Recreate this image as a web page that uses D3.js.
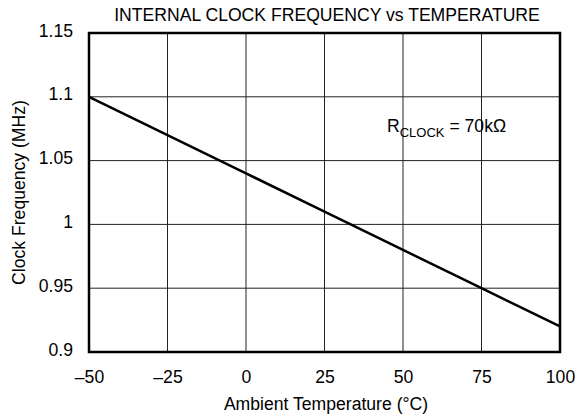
<!DOCTYPE html>
<html><head><meta charset="utf-8">
<script src="https://cdn.jsdelivr.net/npm/d3@7"></script>
<style>body{margin:0;background:#fff}svg{display:block;font-family:"Liberation Sans",Arial,sans-serif}</style>
</head><body><svg id="c" width="575" height="417"></svg>
<script>
const temps = [-50, -25, 0, 25, 50, 75, 100];
const freqs = [1.10, 1.07, 1.04, 1.01, 0.98, 0.95, 0.92];
const xTicks = [-50, -25, 0, 25, 50, 75, 100];
const yTicks = [0.9, 0.95, 1, 1.05, 1.1, 1.15];
const yTickLabels = ["0.9", "0.95", "1", "1.05", "1.1", "1.15"];

const FS = 17.6;
const svg = d3.select("#c");
const L = 89, R = 560, T = 33, B = 352;
const x = d3.scaleLinear().domain([-50, 100]).range([L, R]);
const y = d3.scaleLinear().domain([0.9, 1.15]).range([B, T]);

const g = svg.append("g");
g.selectAll(".vg").data(xTicks).join("line")
  .attr("x1", d => x(d)).attr("x2", d => x(d)).attr("y1", T).attr("y2", B)
  .attr("stroke", "#222").attr("stroke-width", 1);
g.selectAll(".hg").data(yTicks).join("line")
  .attr("y1", d => y(d)).attr("y2", d => y(d)).attr("x1", L).attr("x2", R)
  .attr("stroke", "#222").attr("stroke-width", 1);

const xa = d3.axisBottom(x).tickValues(xTicks).tickSize(0).tickPadding(0)
  .tickFormat(d => d < 0 ? "\u2013" + Math.abs(d) : d);
svg.append("g").attr("transform", `translate(0,${B})`).call(xa)
  .call(s => s.select(".domain").remove())
  .selectAll("text").attr("y", 31).attr("dy", 0).attr("font-size", FS).attr("fill", "#000")
  .attr("font-family", "Liberation Sans, Arial, sans-serif");
const ya = d3.axisLeft(y).tickValues(yTicks).tickSize(0).tickPadding(16)
  .tickFormat((d, i) => yTickLabels[i]);
svg.append("g").attr("transform", `translate(${L},0)`).call(ya)
  .call(s => s.select(".domain").remove())
  .selectAll("text").attr("dy", "0.18em").attr("font-size", FS).attr("fill", "#000")
  .attr("font-family", "Liberation Sans, Arial, sans-serif");

svg.append("path").datum(temps.map((t, i) => [t, freqs[i]]))
  .attr("d", d3.line().x(d => x(d[0])).y(d => y(d[1])))
  .attr("fill", "none").attr("stroke", "#000").attr("stroke-width", 2.5);

svg.append("rect").attr("x", L).attr("y", T).attr("width", R - L).attr("height", B - T)
  .attr("fill", "none").attr("stroke", "#000").attr("stroke-width", 2.5);

svg.append("text").attr("x", 327).attr("y", 21).attr("text-anchor", "middle")
  .attr("font-size", FS).text("INTERNAL CLOCK FREQUENCY vs TEMPERATURE");
svg.append("text").attr("x", 326).attr("y", 410).attr("text-anchor", "middle")
  .attr("font-size", FS).text("Ambient Temperature (\u00B0C)");
svg.append("text").attr("transform", `translate(25,${(T + B) / 2}) rotate(-90)`).attr("text-anchor", "middle")
  .attr("font-size", FS).text("Clock Frequency (MHz)");

const ann = svg.append("text").attr("x", 387).attr("y", 132).attr("font-size", FS).attr("fill", "#000");
ann.append("tspan").text("R");
ann.append("tspan").attr("font-size", 13).attr("dy", 5).text("CLOCK");
ann.append("tspan").attr("dy", -5).text(" = 70k\u03A9");
</script></body></html>
